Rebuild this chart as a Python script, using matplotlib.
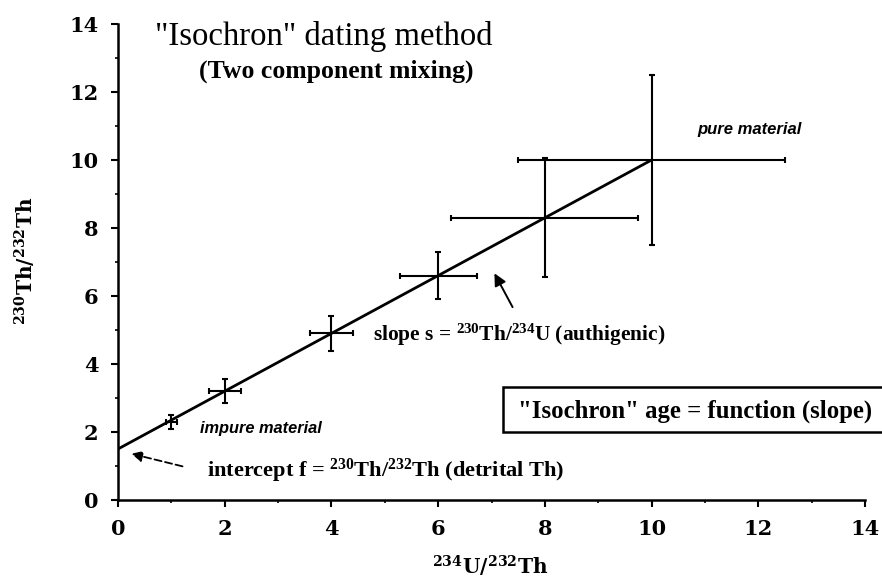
import matplotlib
matplotlib.use("Agg")
import matplotlib.pyplot as plt
from matplotlib.patches import Rectangle
import numpy as np

# Data
x_vals = [1, 2, 4, 6, 8, 10]
y_vals = [2.3, 3.2, 4.9, 6.6, 8.3, 10.0]
x_err = [0.1, 0.3, 0.4, 0.72, 1.75, 2.5]
y_err = [0.2, 0.35, 0.52, 0.7, 1.75, 2.5]
line_x = [0, 10]
line_y = [1.5, 10.0]
ticks = [0, 2, 4, 6, 8, 10, 12, 14]

plt.rcParams['font.family'] = ['Liberation Serif', 'DejaVu Serif']
plt.rcParams['mathtext.fontset'] = 'custom'
plt.rcParams['mathtext.rm'] = 'Liberation Serif:bold'
plt.rcParams['mathtext.it'] = 'Liberation Serif:italic:bold'
plt.rcParams['mathtext.bf'] = 'Liberation Serif:bold'
plt.rcParams['mathtext.default'] = 'rm'

W, H = 882, 578
fig = plt.figure(figsize=(W/100, H/100), dpi=100)
ax = fig.add_axes([118/W, 78/H, (865-118)/W, (500-24)/H])

def fx(px):
    return px / W

def fy(py):
    return 1 - py / H

ax.plot(line_x, line_y, color='black', lw=2.0)
ax.errorbar(x_vals, y_vals, xerr=x_err, yerr=y_err, fmt='none', ecolor='black',
            elinewidth=1.5, capsize=2.5, capthick=1.5)

ax.set_xlim(0, 14)
ax.set_ylim(0, 14)
ax.set_xticks(ticks)
ax.set_yticks(ticks)
ax.set_xticks(np.arange(1, 14, 2), minor=True)
ax.set_yticks(np.arange(1, 14, 2), minor=True)
ax.spines['top'].set_visible(False)
ax.spines['right'].set_visible(False)
ax.spines['left'].set_linewidth(1.8)
ax.spines['bottom'].set_linewidth(1.8)
ax.tick_params(which='major', direction='out', length=5, width=1.5, pad=9)
ax.tick_params(which='minor', direction='out', length=2.5, width=1.2)
for lab in ax.get_xticklabels() + ax.get_yticklabels():
    lab.set_fontfamily('DejaVu Serif')
    lab.set_fontweight('bold')
    lab.set_fontsize(15)

# axis labels
fig.text(fx(490), fy(566), r'$^{\mathbf{234}}$U/$^{\mathbf{232}}$Th', fontsize=14.5,
         family='DejaVu Serif', fontweight='bold', math_fontfamily='dejavuserif',
         ha='center', va='center')
fig.text(fx(25), fy(261), r'$^{\mathbf{230}}$Th/$^{\mathbf{232}}$Th', fontsize=14.5,
         family='DejaVu Serif', fontweight='bold', math_fontfamily='dejavuserif',
         ha='center', va='center', rotation=90)

# titles
fig.text(fx(155), fy(45), '"Isochron" dating method', fontsize=23.6, ha='left', va='baseline')
fig.text(fx(199), fy(78), '(Two component mixing)', fontsize=18.5, fontweight='bold',
         ha='left', va='baseline')

ax.text(11.83, 10.9, 'pure material', fontsize=12, fontstyle='italic', fontweight='bold',
        family='Liberation Sans', ha='center', va='center')
ax.text(1.54, 2.1, 'impure material', fontsize=11.8, fontstyle='italic', fontweight='bold',
        family='Liberation Sans', ha='left', va='center')

fig.text(fx(373), fy(335), r'slope s = $^{230}$Th/$^{234}$U (authigenic)', fontsize=15.4,
         fontweight='bold', ha='left', va='center')
ax.annotate('', xy=(7.03, 6.74), xytext=(7.42, 5.6),
            arrowprops=dict(arrowstyle='-|>', color='black', lw=1.4, mutation_scale=18))

fig.text(fx(207), fy(471), r'intercept f = $^{230}$Th/$^{232}$Th (detrital Th)', fontsize=16.1,
         fontweight='bold', ha='left', va='center')
ax.annotate('', xy=(0.2, 1.38), xytext=(1.26, 0.97),
            arrowprops=dict(arrowstyle='-|>', color='black', lw=1.3, linestyle=(0, (4, 2)),
                            mutation_scale=16))

fig.add_artist(Rectangle((fx(503), fy(432)), fx(900) - fx(503), fy(387) - fy(432),
                         transform=fig.transFigure, facecolor='white', edgecolor='black',
                         lw=1.8, clip_on=False))
fig.text(fx(518), fy(411), '"Isochron" age = function (slope)', fontsize=17.8,
         fontweight='bold', ha='left', va='center')

fig.savefig('out.png', dpi=100)
